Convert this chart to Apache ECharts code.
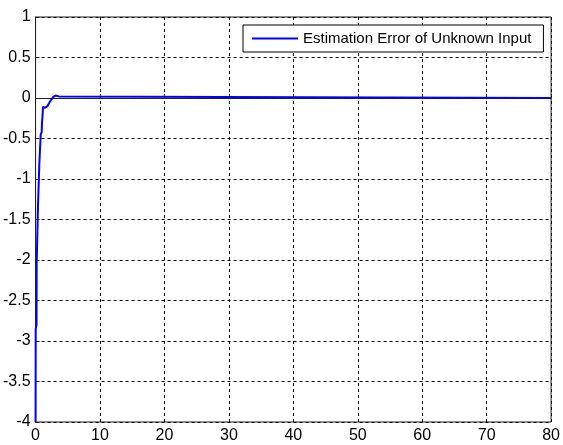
<!DOCTYPE html>
<html><head><meta charset="utf-8">
<script src="https://cdn.jsdelivr.net/npm/echarts@6/dist/echarts.min.js"></script>
<style>html,body{margin:0;padding:0;background:#fff}#c{width:563px;height:445px}</style>
</head><body><div id="c"></div>
<script>
const seriesName = 'Estimation Error of Unknown Input';
const timeValues = [0, 0.02, 0.15, 0.17, 0.35, 0.37, 0.55, 0.58, 0.75, 0.8, 0.95, 1.0, 1.1, 1.15, 1.5, 1.85, 2.2, 2.7, 3.1, 3.6, 3.9, 80];
const errorValues = [-4, -2.85, -2.8, -2.06, -2.04, -1.35, -1.33, -0.82, -0.8, -0.45, -0.42, -0.3, -0.2, -0.11, -0.12, -0.1, -0.05, 0.01, 0.03, 0.02, 0, 0];
const xTicks = [0, 10, 20, 30, 40, 50, 60, 70, 80];
const yTicks = [1, 0.5, 0, -0.5, -1, -1.5, -2, -2.5, -3, -3.5, -4];

const font = 'Arial, "Liberation Sans", sans-serif';
const chart = echarts.init(document.getElementById('c'));
const gridLine = {show: true, lineStyle: {color: '#000', type: [3, 3], width: 1}};
chart.setOption({
  backgroundColor: '#fff',
  animation: false,
  grid: {left: 35, top: 17, right: 10, bottom: 23, show: true, borderColor: '#222', borderWidth: 1},
  legend: {
    left: 243, top: 25, padding: [6, 12, 6, 9],
    borderColor: '#000', borderWidth: 1, backgroundColor: '#fff',
    itemWidth: 46, itemHeight: 14, itemGap: 5,
    textStyle: {fontFamily: font, fontSize: 15, color: '#000'},
    data: [{name: seriesName, icon: 'path://M0,6 L46,6 L46,8 L0,8 Z'}]
  },
  xAxis: [{
    type: 'value', min: xTicks[0], max: xTicks[xTicks.length - 1], interval: 10,
    axisLine: {show: true, lineStyle: {color: '#222'}},
    axisTick: {show: true, inside: true, length: 4, lineStyle: {color: '#222'}},
    axisLabel: {fontFamily: font, fontSize: 16, color: '#000', margin: 6},
    splitLine: gridLine
  }],
  yAxis: [{
    type: 'value', min: -4, max: 1, interval: 0.5,
    axisLine: {show: true, lineStyle: {color: '#222'}},
    axisTick: {show: true, inside: true, length: 4, lineStyle: {color: '#222'}},
    axisLabel: {fontFamily: font, fontSize: 16, color: '#000', margin: 5,
      formatter: v => yTicks.includes(v) ? String(v) : ''},
    splitLine: gridLine
  }],
  series: [{
    name: seriesName, type: 'line', symbol: 'none',
    data: timeValues.map((t, i) => [t, errorValues[i]]),
    lineStyle: {color: '#0000ff', width: 2},
    itemStyle: {color: '#0000ff'}
  }]
});
</script></body></html>
